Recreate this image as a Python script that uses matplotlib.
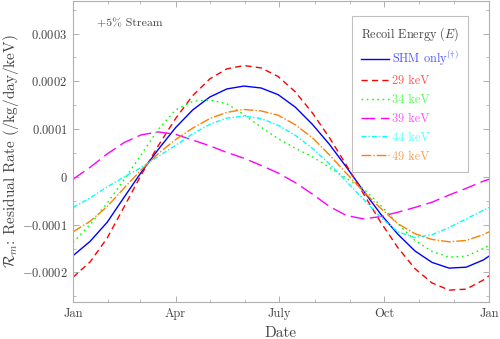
import datetime as dt
import matplotlib
matplotlib.use("Agg")
import matplotlib.pyplot as plt
import matplotlib.dates as mdates
from matplotlib.ticker import FixedLocator, FuncFormatter

# ---------------- data ----------------
days = [0, 15, 30, 45, 60, 75, 90, 105, 120, 135, 150, 165, 180, 195, 210,
        225, 240, 255, 270, 285, 300, 315, 330, 345, 360, 365]

shm = [-1.65, -1.35, -0.95, -0.42, 0.10, 0.58, 1.03, 1.40, 1.67, 1.84, 1.90,
       1.86, 1.72, 1.46, 1.10, 0.68, 0.20, -0.30, -0.78, -1.20, -1.55, -1.79,
       -1.91, -1.89, -1.74, -1.66]
e29 = [-2.10, -1.78, -1.28, -0.62, 0.05, 0.66, 1.22, 1.70, 2.05, 2.26, 2.33,
       2.28, 2.10, 1.78, 1.34, 0.82, 0.24, -0.36, -0.95, -1.48, -1.92, -2.22,
       -2.37, -2.35, -2.16, -2.07]
e34 = [-1.37, -1.00, -0.55, -0.05, 0.47, 1.00, 1.40, 1.58, 1.61, 1.53, 1.30,
       1.04, 0.80, 0.60, 0.42, 0.20, -0.03, -0.25, -0.60, -0.98, -1.33, -1.56,
       -1.68, -1.66, -1.50, -1.43]
e39 = [-0.05, 0.20, 0.48, 0.72, 0.88, 0.94, 0.89, 0.77, 0.65, 0.51, 0.39,
       0.24, 0.08, -0.12, -0.36, -0.62, -0.81, -0.88, -0.83, -0.74, -0.64,
       -0.53, -0.38, -0.24, -0.09, -0.05]
e44 = [-0.64, -0.44, -0.21, 0.00, 0.20, 0.43, 0.66, 0.90, 1.10, 1.23, 1.27,
       1.22, 1.08, 0.87, 0.60, 0.27, -0.10, -0.47, -0.85, -1.15, -1.27, -1.21,
       -1.06, -0.88, -0.70, -0.64]
e49 = [-1.15, -0.93, -0.62, -0.23, 0.15, 0.49, 0.78, 1.02, 1.22, 1.35, 1.41,
       1.38, 1.29, 1.09, 0.82, 0.46, 0.07, -0.31, -0.66, -0.98, -1.19, -1.31,
       -1.36, -1.33, -1.21, -1.15]
value_scale = 1e-4

series_labels = [r"SHM only$^{(\dagger)}$", "29 keV", "34 keV", "39 keV",
                 "44 keV", "49 keV"]
series_values = [shm, e29, e34, e39, e44, e49]

y_ticks = [-0.0002, -0.0001, 0, 0.0001, 0.0002, 0.0003]
y_tick_labels = [r"$-0.0002$", r"$-0.0001$", r"$0$", r"$0.0001$",
                 r"$0.0002$", r"$0.0003$"]
month_names = {1: "Jan", 4: "Apr", 7: "July", 10: "Oct"}

# ---------------- style ----------------
plt.rcParams["font.family"] = "serif"
plt.rcParams["font.serif"] = ["cmr10"]
plt.rcParams["mathtext.fontset"] = "cm"
plt.rcParams["axes.unicode_minus"] = False

colors = ["#0000ff", "#ff0000", "#00ff00", "#ff00ff", "#00ffff", "#ff8000"]
text_colors = ["#5555ff", "#ff5555", "#55ff55", "#ff55ff", "#55ffff", "#ffa050"]
styles = ["-", (0, (4.5, 3)), (0, (1.2, 2.6)), (0, (10, 4)),
          (0, (3.5, 1.5, 1, 1.5)), (0, (7, 1.5, 1, 1.5))]

fig = plt.figure(figsize=(5.0, 3.39), dpi=100)
ax = fig.add_axes([0.146, 0.109, 0.832, 0.888])

start = dt.datetime(2001, 1, 1)
dates = [start + dt.timedelta(days=d) for d in days]

for vals, lab, c, ls in zip(series_values, series_labels, colors, styles):
    ax.plot(dates, [v * value_scale for v in vals], color=c, linestyle=ls,
            lw=1.0, label=lab)

ax.set_xlim(start, start + dt.timedelta(days=365))
ax.set_ylim(-0.000262, 0.000368)

ax.xaxis.set_major_locator(mdates.MonthLocator(bymonth=[1, 4, 7, 10]))
ax.xaxis.set_minor_locator(mdates.MonthLocator())
ax.xaxis.set_major_formatter(
    FuncFormatter(lambda x, pos: month_names.get(mdates.num2date(x).month, "")))

ax.yaxis.set_major_locator(FixedLocator(y_ticks))
ax.yaxis.set_major_formatter(FuncFormatter(
    lambda x, pos: y_tick_labels[pos] if pos is not None and pos < len(y_tick_labels) else ""))
ax.yaxis.set_minor_locator(FixedLocator(
    [-0.00025, -0.00015, -0.00005, 0.00005, 0.00015, 0.00025, 0.00035]))

frame_c = "#b0b0b0"
for s in ax.spines.values():
    s.set_color(frame_c)
    s.set_linewidth(0.8)
ax.tick_params(which="both", direction="in", top=True, right=True,
               color=frame_c, labelcolor="#444444", labelsize=9)
ax.tick_params(which="major", length=4, width=0.7, pad=4)
ax.tick_params(which="minor", length=2.5, width=0.6)

ax.set_xlabel("Date", fontsize=11, color="#444444", labelpad=5)
ax.set_ylabel(r"$\mathcal{R}_m$: Residual Rate (/kg/day/keV)", fontsize=11,
              color="#444444")
ax.yaxis.set_label_coords(-0.125, 0.5)

ax.text(0.058, 0.927, r"+5% Stream", transform=ax.transAxes, fontsize=8.5,
        color="#444444", va="center", ha="left")

leg = ax.legend(loc="upper right", bbox_to_anchor=(0.950, 0.951),
                title=r"Recoil Energy ($E$)", fontsize=8.8, title_fontsize=8.8,
                frameon=True, fancybox=False, framealpha=1, edgecolor="#c0c0c0",
                handlelength=2.3, handletextpad=0.25, labelspacing=0.55,
                borderpad=0.75, borderaxespad=0)
leg.get_frame().set_linewidth(0.8)
leg.get_title().set_color("#444444")
leg._legend_box.sep = 4.5
for t, c in zip(leg.get_texts(), text_colors):
    t.set_color(c)

fig.savefig("out.png", dpi=100)
